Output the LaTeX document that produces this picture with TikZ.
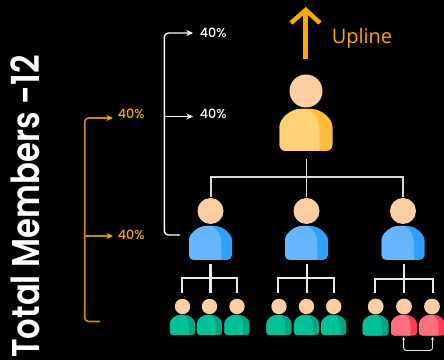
\documentclass[tikz,border=0pt]{standalone}
\usepackage{fontspec}
\setmainfont{Poppins}
\newfontfamily\uplinefont{Open Sans}
\newfontfamily\titlefont{Poppins}[UprightFont=* SemiBold]
\newfontfamily\pctfont{Poppins}[UprightFont=* Medium]
\usetikzlibrary{arrows.meta}
\definecolor{headc}{HTML}{FFCFA3}
\definecolor{goldL}{HTML}{FFD27A}\definecolor{goldD}{HTML}{FFBD3C}
\definecolor{blueL}{HTML}{66B5FF}\definecolor{blueD}{HTML}{2FA0FF}
\definecolor{greenL}{HTML}{00C09A}\definecolor{greenD}{HTML}{00A583}
\definecolor{redL}{HTML}{FF6F7D}\definecolor{redD}{HTML}{FF3D4D}
\definecolor{ambL}{HTML}{C98B00}\definecolor{ambT}{HTML}{F2A900}
\definecolor{upl}{HTML}{FFA800}
\tikzset{
  x=0.75pt,y=-0.75pt,
  tree/.style={draw=white!92!black,line width=1.6pt,line cap=butt},
  treethin/.style={draw=white!85!black,line width=1.05pt},
  bracketW/.style={draw=white,line width=1.05pt,rounded corners=3pt},
  bracketO/.style={draw=ambL,line width=1.2pt,rounded corners=3pt},
  tipW/.style={-{Stealth[length=5pt,width=4.5pt]}},
  tipO/.style={-{Stealth[length=5pt,width=4.5pt,color=ambT]}},
  pctW/.style={text=white,font=\pctfont\fontsize{9.6}{12}\selectfont,inner sep=0pt,anchor=west},
  pctO/.style={text=ambT,font=\pctfont\fontsize{9.6}{12}\selectfont,inner sep=0pt,anchor=west},
  head/.style={circle,fill=headc,inner sep=0pt},
}
% name, x, body top, half width, head y, head r, light, dark
\newcommand\person[8]{%
  \begin{scope}[shift={(#2,#3)},x=#4*0.75pt,y=-#4*0.75pt]
    \begin{scope}
      \clip[rounded corners=0.12cm*#4/20] (-1,1.58) -- (-1,0.9) .. controls (-1,0.35) and (-0.55,0) .. (0,0) .. controls (0.55,0) and (1,0.35) .. (1,0.9) -- (1,1.58) -- cycle;
      \fill[#8] (-1.1,-0.1) rectangle (1.1,1.7);
      \fill[#7] (-1.1,-0.1) -- (-0.1,-0.1) .. controls (0.3,0.1) and (0.5,0.35) .. (0.5,0.8) -- (0.5,1.7) -- (-1.1,1.7) -- cycle;
    \end{scope}
  \end{scope}
  \node[head,minimum size=2*#6*0.75pt] (#1) at (#2,#5) {};
}
\begin{document}
\begin{tikzpicture}
\useasboundingbox (0,0) rectangle (444,360);
\fill[black] (0,0) rectangle (444,360);

% people
\person{top}{306}{109}{26.5}{91}{16.5}{goldL}{goldD}
\person{m1}{210.5}{226}{21.5}{211}{13}{blueL}{blueD}
\person{m2}{306.5}{226}{21.5}{211}{13}{blueL}{blueD}
\person{m3}{403}{226}{21.5}{211}{13}{blueL}{blueD}
\person{a1}{182.5}{315}{12.6}{306.5}{7.7}{greenL}{greenD}
\person{a2}{209.5}{315}{12.6}{306.5}{7.7}{greenL}{greenD}
\person{a3}{237}{315}{12.6}{306.5}{7.7}{greenL}{greenD}
\person{b1}{279}{315}{12.6}{306.5}{7.7}{greenL}{greenD}
\person{b2}{306.5}{315}{12.6}{306.5}{7.7}{greenL}{greenD}
\person{b3}{333.7}{315}{12.6}{306.5}{7.7}{greenL}{greenD}
\person{c1}{375.7}{315}{13}{306.5}{7.9}{greenL}{greenD}
\person{c2}{404}{315}{13}{306.5}{7.9}{redL}{redD}
\person{c3}{432}{315}{13}{306.5}{7.9}{redL}{redD}

% tree connectors
\coordinate (t0) at (306.5,159);
\coordinate (j0) at (306.5,177);
\coordinate (t1) at (211,197);
\coordinate (t2) at (306.5,197);
\coordinate (t3) at (403,197);
\draw[treethin] (t0) -- (t2);
\draw[treethin] (t1) |- (j0) -| (t3);

\coordinate (u1) at (210.5,264);\coordinate (j1) at (210.5,278);
\coordinate (v1) at (182,293);\coordinate (v2) at (210.5,293);\coordinate (v3) at (237,293);
\draw[tree] (u1) -- (v2);
\draw[tree] (v1) |- (j1) -| (v3);

\coordinate (u2) at (306.7,264);\coordinate (j2) at (306.7,278);
\coordinate (w1) at (278,293);\coordinate (w2) at (306.7,293);\coordinate (w3) at (334,293);
\draw[tree] (u2) -- (w2);
\draw[tree] (w1) |- (j2) -| (w3);

\coordinate (u3) at (403.7,264);\coordinate (j3) at (403.7,279);
\coordinate (x1) at (375,293);\coordinate (x2) at (403.7,293);\coordinate (x3) at (433,293);
\draw[tree] (u3) -- (x2);
\draw[tree] (x1) |- (j3) -| (x3);

% percent labels
\node[pctW] (p1) at (199.5,33) {40\%};
\node[pctW] (p2) at (199.5,113.5) {40\%};
\node[pctO] (q1) at (117.5,113.5) {40\%};
\node[pctO] (q2) at (117.5,235) {40\%};

% white bracket
\coordinate (wb) at (180,235);
\coordinate (wc) at (164.3,116.5);
\coordinate (wt1) at (193,33);
\coordinate (wt2) at (193,116.5);
\draw[bracketW,tipW] (wb) -- (164.3,235) -- (164.3,33) -- (wt1);
\draw[bracketW,tipW] (wc) -- (wt2);

% amber bracket
\coordinate (ob) at (100,321.5);
\coordinate (oc) at (84.7,236);
\coordinate (ot1) at (113,118);
\coordinate (ot2) at (113,236);
\draw[bracketO,tipO] (ob) -- (84.7,321.5) -- (84.7,118) -- (ot1);
\draw[bracketO,tipO] (oc) -- (ot2);

% small bracket
\coordinate (s1) at (403.7,337);
\coordinate (s2) at (432.5,337);
\draw[draw=white!90!black,line width=0.7pt,rounded corners=2pt,{Stealth[length=2.2pt,width=2.2pt]}-{Stealth[length=2.2pt,width=2.2pt]}] (s1) -- (403.7,350.5) -- (432.5,350.5) -- (s2);

% upline
\coordinate (ua) at (305.7,59);
\coordinate (ub) at (305.7,10);
\coordinate (uh1) at (291,23);
\coordinate (uh2) at (320,23);
\draw[draw=upl,line width=3.4pt] (ua) -- (ub);
\draw[draw=upl,line width=3.4pt,miter limit=3] (uh1) -- (ub) -- (uh2);
\node[text=ambT,font=\uplinefont\fontsize{15}{18}\selectfont,inner sep=0pt,anchor=base west] (up) at (331.5,44) {Upline};

% side title
\node[text=white,font=\titlefont\fontsize{29}{34}\selectfont,rotate=90,inner sep=0pt,anchor=base west] (title) at (40,358) {\scalebox{0.835}[1]{Total Members -12}};
\end{tikzpicture}
\end{document}
